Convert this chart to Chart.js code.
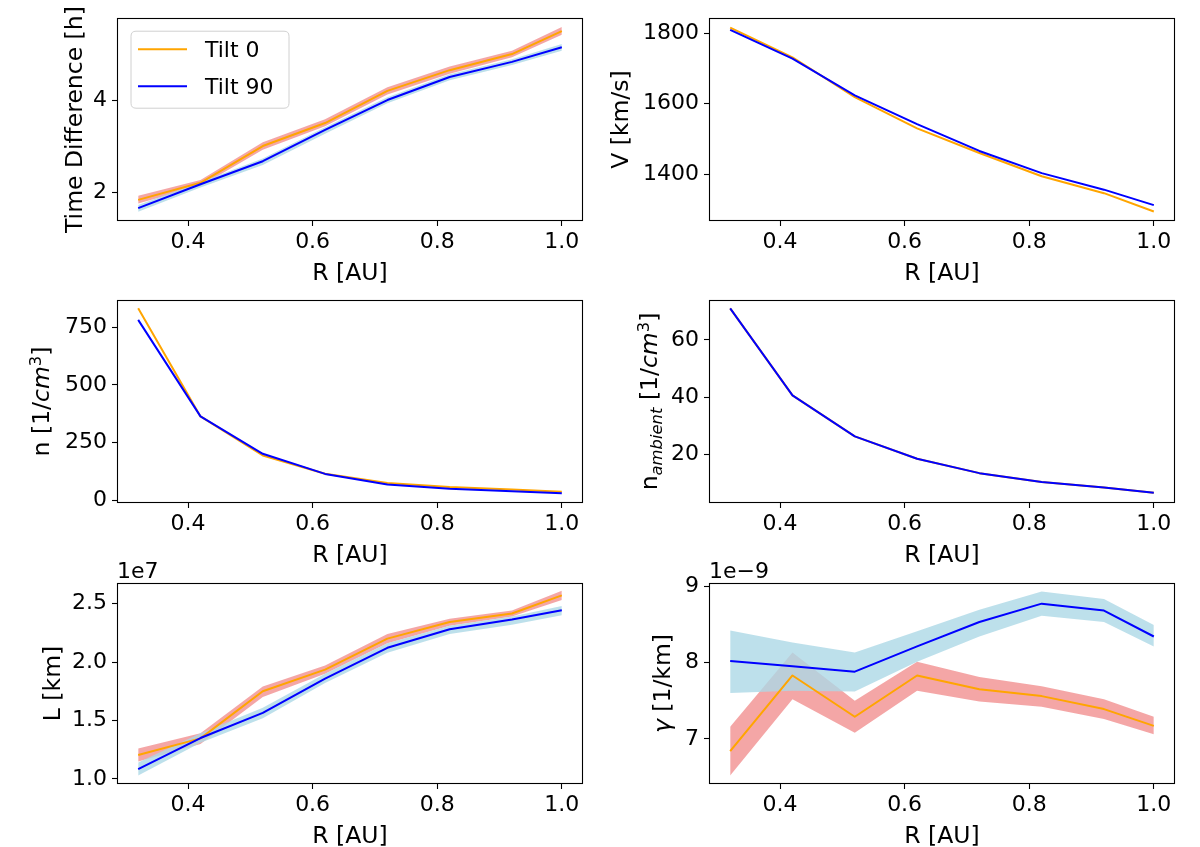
<!DOCTYPE html>
<html><head><meta charset="utf-8">
<script src="https://cdn.jsdelivr.net/npm/chart.js@4.4.1/dist/chart.umd.min.js"></script>
<style>
html,body{margin:0;padding:0;background:#fff;}
#wrap{position:relative;width:1200px;height:847px;overflow:hidden;background:#fff;}
canvas{position:absolute;left:0;top:0;}
</style></head><body><div id="wrap">
<canvas id="c1"></canvas><canvas id="c2"></canvas><canvas id="c3"></canvas>
<canvas id="c4"></canvas><canvas id="c5"></canvas><canvas id="c6"></canvas>
</div>
<script>
// ---------------- DATA ----------------
const R_AU = [0.32, 0.42, 0.52, 0.62, 0.72, 0.82, 0.92, 1.0];
const xTicks = [0.4, 0.6, 0.8, 1.0];
const seriesLabels = ['Tilt 0', 'Tilt 90'];

// Time difference [h]
const timeTilt0      = [1.83, 2.20, 3.00, 3.50, 4.20, 4.65, 5.00, 5.50];
const timeTilt0Upper = [1.92, 2.26, 3.08, 3.58, 4.28, 4.73, 5.07, 5.59];
const timeTilt0Lower = [1.75, 2.13, 2.92, 3.43, 4.12, 4.57, 4.93, 5.42];
const timeTilt90      = [1.65, 2.17, 2.67, 3.35, 4.00, 4.50, 4.83, 5.15];
const timeTilt90Upper = [1.72, 2.22, 2.73, 3.41, 4.06, 4.56, 4.89, 5.22];
const timeTilt90Lower = [1.57, 2.10, 2.59, 3.27, 3.93, 4.43, 4.76, 5.07];
const timeTicks = [2, 4];

// V [km/s]
const vTilt0  = [1816, 1732, 1619, 1530, 1460, 1394, 1346, 1294];
const vTilt90 = [1810, 1728, 1624, 1542, 1466, 1403, 1356, 1312];
const vTicks = [1400, 1600, 1800];

// n [1/cm^3]
const nTilt0  = [832, 364, 195, 116, 76, 58, 47, 38];
const nTilt90 = [782, 364, 202, 115, 69, 51, 40, 31];
const nTicks = [0, 250, 500, 750];

// n ambient [1/cm^3]
const nAmbTilt0  = [71.0, 40.7, 26.4, 18.6, 13.6, 10.5, 8.6, 6.8];
const nAmbTilt90 = [71.0, 40.7, 26.4, 18.6, 13.6, 10.5, 8.6, 6.8];
const nAmbTicks = [20, 40, 60];

// L [km]
const lTilt0      = [1.205e7, 1.347e7, 1.750e7, 1.935e7, 2.200e7, 2.343e7, 2.415e7, 2.570e7];
const lTilt0Upper = [1.26e7, 1.39e7, 1.79e7, 1.97e7, 2.24e7, 2.37e7, 2.44e7, 2.61e7];
const lTilt0Lower = [1.15e7, 1.30e7, 1.70e7, 1.90e7, 2.16e7, 2.31e7, 2.39e7, 2.53e7];
const lTilt90      = [1.085e7, 1.350e7, 1.565e7, 1.858e7, 2.122e7, 2.280e7, 2.363e7, 2.443e7];
const lTilt90Upper = [1.14e7, 1.39e7, 1.61e7, 1.90e7, 2.16e7, 2.31e7, 2.39e7, 2.48e7];
const lTilt90Lower = [1.03e7, 1.31e7, 1.52e7, 1.82e7, 2.08e7, 2.24e7, 2.32e7, 2.40e7];
const lTicks = [1.0e7, 1.5e7, 2.0e7, 2.5e7];

// gamma [1/km]
const gTilt0      = [6.84e-9, 7.83e-9, 7.29e-9, 7.83e-9, 7.65e-9, 7.56e-9, 7.39e-9, 7.17e-9];
const gTilt0Upper = [7.16e-9, 8.13e-9, 7.50e-9, 8.01e-9, 7.81e-9, 7.69e-9, 7.52e-9, 7.29e-9];
const gTilt0Lower = [6.52e-9, 7.52e-9, 7.08e-9, 7.63e-9, 7.49e-9, 7.42e-9, 7.26e-9, 7.06e-9];
const gTilt90      = [8.02e-9, 7.95e-9, 7.88e-9, 8.21e-9, 8.53e-9, 8.77e-9, 8.68e-9, 8.34e-9];
const gTilt90Upper = [8.42e-9, 8.26e-9, 8.13e-9, 8.41e-9, 8.69e-9, 8.93e-9, 8.83e-9, 8.49e-9];
const gTilt90Lower = [7.60e-9, 7.63e-9, 7.62e-9, 8.01e-9, 8.34e-9, 8.61e-9, 8.53e-9, 8.21e-9];
const gTicks = [7e-9, 8e-9, 9e-9];

// ---------------- STYLE ----------------
const FONT = "'DejaVu Sans', 'Liberation Sans', sans-serif";
const FS = 22;      // tick / legend text
const LFS = 23.5;   // axis label text
const COL0 = '#FFA500', COL90 = '#0000FF';
const BAND0 = 'rgba(240,128,128,0.7)', BAND90 = 'rgba(173,216,230,0.8)';
const PAGE_W = 1200, PAGE_H = 847;

Chart.defaults.font.family = FONT;
Chart.defaults.font.size = FS;
Chart.defaults.color = '#000';

function fontOf(s){ return (s.it ? 'italic ' : '') + (LFS*(s.sc||1)).toFixed(1) + 'px ' + FONT; }
function drawRich(ctx, segs, cx, cy, rot){
  ctx.save(); ctx.translate(cx, cy); if (rot) ctx.rotate(-Math.PI/2);
  ctx.textBaseline = 'alphabetic'; ctx.textAlign = 'left'; ctx.fillStyle = '#000';
  let total = 0; const ws = [];
  segs.forEach(s => { ctx.font = fontOf(s); const w = ctx.measureText(s.t).width; ws.push(w); total += w; });
  let x = -total/2; const by = LFS*0.36;
  segs.forEach((s,i) => { ctx.font = fontOf(s); ctx.fillText(s.t, x, by + (s.dy||0)*LFS); x += ws[i]; });
  ctx.restore();
}
function drawLegend(ctx, a){
  const x0 = a.left+14, y0 = a.top+13, w = 158, h = 77, r = 5;
  ctx.save();
  ctx.beginPath();
  ctx.moveTo(x0+r, y0); ctx.lineTo(x0+w-r, y0); ctx.quadraticCurveTo(x0+w, y0, x0+w, y0+r);
  ctx.lineTo(x0+w, y0+h-r); ctx.quadraticCurveTo(x0+w, y0+h, x0+w-r, y0+h);
  ctx.lineTo(x0+r, y0+h); ctx.quadraticCurveTo(x0, y0+h, x0, y0+h-r);
  ctx.lineTo(x0, y0+r); ctx.quadraticCurveTo(x0, y0, x0+r, y0); ctx.closePath();
  ctx.fillStyle = 'rgba(255,255,255,0.8)'; ctx.fill();
  ctx.strokeStyle = '#d0d0d0'; ctx.lineWidth = 1; ctx.stroke();
  const cols = [COL0, COL90];
  seriesLabels.forEach((lab, i) => {
    const y = a.top + 31 + i*37;
    ctx.strokeStyle = cols[i]; ctx.lineWidth = 2;
    ctx.beginPath(); ctx.moveTo(a.left+21, y); ctx.lineTo(a.left+70, y); ctx.stroke();
    ctx.fillStyle = '#000'; ctx.font = FS + 'px ' + FONT; ctx.textAlign = 'left'; ctx.textBaseline = 'alphabetic';
    ctx.fillText(lab, a.left+88, y + FS*0.36);
  });
  ctx.restore();
}
const decor = {
  id: 'decor',
  afterDraw(chart){
    const cfg = chart.options.plugins.decor; const ctx = chart.ctx; const a = chart.chartArea;
    ctx.save();
    ctx.strokeStyle = '#000'; ctx.lineWidth = 1.1;
    ctx.strokeRect(Math.round(a.left)+0.5, Math.round(a.top)+0.5, Math.round(a.right-a.left)-1, Math.round(a.bottom-a.top)-1);
    drawRich(ctx, [{t:'R [AU]'}], (a.left+a.right)/2, a.bottom+51, false);
    drawRich(ctx, cfg.ylabel, cfg.ylabelX, (a.top+a.bottom)/2, true);
    if (cfg.offsetText){
      ctx.fillStyle='#000'; ctx.font = FS+'px '+FONT; ctx.textAlign='left'; ctx.textBaseline='alphabetic';
      ctx.fillText(cfg.offsetText, a.left, a.top-5);
    }
    if (cfg.legend) drawLegend(ctx, a);
    ctx.restore();
  }
};

function pts(arr){ return R_AU.map((x,i) => ({x: x, y: arr[i]})); }

function makePanel(p){
  const cv = document.getElementById(p.id);
  cv.width = PAGE_W; cv.height = PAGE_H;
  cv.style.width = PAGE_W+'px'; cv.style.height = PAGE_H+'px';
  const ds = [];
  if (p.band0){
    ds.push({data: pts(p.band0[0]), fill: '+1', backgroundColor: BAND0, borderWidth: 0, pointRadius: 0, order: 4});
    ds.push({data: pts(p.band0[1]), fill: false, borderWidth: 0, pointRadius: 0, order: 5});
  }
  if (p.band90){
    ds.push({data: pts(p.band90[0]), fill: '+1', backgroundColor: BAND90, borderWidth: 0, pointRadius: 0, order: 2});
    ds.push({data: pts(p.band90[1]), fill: false, borderWidth: 0, pointRadius: 0, order: 3});
  }
  ds.push({label: seriesLabels[0], data: pts(p.s0), borderColor: COL0, borderWidth: 2, pointRadius: 0, fill: false, order: 1});
  ds.push({label: seriesLabels[1], data: pts(p.s90), borderColor: COL90, borderWidth: 2, pointRadius: 0, fill: false, order: 0});
  const padLeft = p.colLeft;
  const padRight = PAGE_W - p.colLeft - p.colW + p.padRight;
  const padTop = p.rowTop + p.padTop;
  const padBottom = PAGE_H - p.rowTop - p.rowH;
  new Chart(cv, {
    type: 'line',
    data: {datasets: ds},
    options: {
      responsive: false, animation: false, devicePixelRatio: 1,
      events: [],
      elements: {line: {tension: 0, borderCapStyle: 'butt', borderJoinStyle: 'round'}},
      layout: {padding: {top: padTop, right: padRight, left: padLeft, bottom: padBottom}},
      plugins: {legend: {display: false}, tooltip: {enabled: false}, filler: {propagate: false},
        decor: {ylabel: p.ylabel, ylabelX: p.colLeft + p.ylabelX, offsetText: p.offsetText, legend: p.legend}},
      scales: {
        x: {type: 'linear', min: 0.286, max: 1.034,
          afterBuildTicks: s => { s.ticks = xTicks.map(v => ({value: v})); },
          afterFit: s => { s.height = p.xAxisH; },
          grid: {drawOnChartArea: false, drawTicks: true, tickLength: 5, tickColor: '#000', tickWidth: 1.1},
          border: {display: false},
          ticks: {autoSkip: false, maxRotation: 0, padding: 3, color: '#000', callback: v => v.toFixed(1)}},
        y: {type: 'linear', min: p.yMin, max: p.yMax,
          afterBuildTicks: s => { s.ticks = p.yTicks.map(v => ({value: v})); },
          afterFit: s => { s.width = p.yAxisW; },
          grid: {drawOnChartArea: false, drawTicks: true, tickLength: 5, tickColor: '#000', tickWidth: 1.1},
          border: {display: false},
          ticks: {autoSkip: false, padding: 5, color: '#000', callback: p.yFmt}}
      }
    },
    plugins: [decor]
  });
}

const L = {colLeft: 0, colW: 600, yAxisW: 117, padRight: 17};
const Rt = {colLeft: 600, colW: 600, yAxisW: 109, padRight: 25};
const row1 = {rowTop: 0, rowH: 280, padTop: 18, xAxisH: 59};
const row2 = {rowTop: 280, rowH: 285, padTop: 20, xAxisH: 62};
const row3 = {rowTop: 565, rowH: 282, padTop: 18, xAxisH: 63};

makePanel(Object.assign({id: 'c1'}, L, row1, {
  s0: timeTilt0, s90: timeTilt90, band0: [timeTilt0Upper, timeTilt0Lower], band90: [timeTilt90Upper, timeTilt90Lower],
  yMin: 1.37, yMax: 5.78, yTicks: timeTicks, yFmt: v => String(v),
  ylabel: [{t: 'Time Difference [h]'}], ylabelX: 74, legend: true}));
makePanel(Object.assign({id: 'c2'}, Rt, row1, {
  s0: vTilt0, s90: vTilt90,
  yMin: 1267, yMax: 1843, yTicks: vTicks, yFmt: v => String(v),
  ylabel: [{t: 'V [km/s]'}], ylabelX: 20}));
makePanel(Object.assign({id: 'c3'}, L, row2, {
  s0: nTilt0, s90: nTilt90,
  yMin: -11, yMax: 868, yTicks: nTicks, yFmt: v => String(v),
  ylabel: [{t: 'n [1/'}, {t: 'cm', it: 1}, {t: '3', sc: 0.7, dy: -0.35}, {t: ']'}], ylabelX: 41}));
makePanel(Object.assign({id: 'c4'}, Rt, row2, {
  s0: nAmbTilt0, s90: nAmbTilt90,
  yMin: 3.2, yMax: 73.9, yTicks: nAmbTicks, yFmt: v => String(v),
  ylabel: [{t: 'n'}, {t: 'ambient', it: 1, sc: 0.7, dy: 0.2}, {t: ' [1/'}, {t: 'cm', it: 1}, {t: '3', sc: 0.7, dy: -0.35}, {t: ']'}], ylabelX: 49}));
makePanel(Object.assign({id: 'c5'}, L, row3, {
  s0: lTilt0, s90: lTilt90, band0: [lTilt0Upper, lTilt0Lower], band90: [lTilt90Upper, lTilt90Lower],
  yMin: 0.957e7, yMax: 2.676e7, yTicks: lTicks, yFmt: v => (v/1e7).toFixed(1),
  ylabel: [{t: 'L [km]'}], ylabelX: 52, offsetText: '1e7'}));
makePanel(Object.assign({id: 'c6'}, Rt, row3, {
  s0: gTilt0, s90: gTilt90, band0: [gTilt0Upper, gTilt0Lower], band90: [gTilt90Upper, gTilt90Lower],
  yMin: 6.41e-9, yMax: 9.04e-9, yTicks: gTicks, yFmt: v => String(Math.round(v/1e-9)),
  ylabel: [{t: 'γ', it: 1}, {t: ' [1/km]'}], ylabelX: 62, offsetText: '1e\u22129'}));
</script>
</body></html>
